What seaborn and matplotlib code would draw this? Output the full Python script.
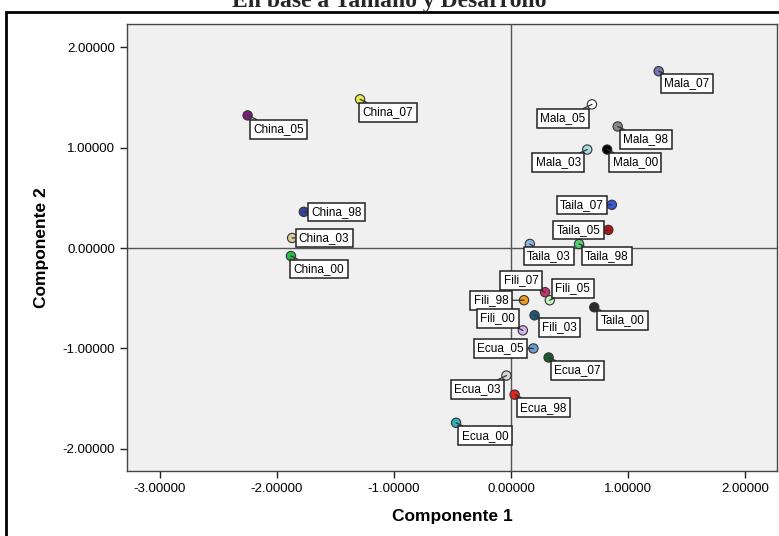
import matplotlib as mpl
mpl.use('Agg')
import matplotlib.pyplot as plt
from matplotlib.patches import Rectangle
import seaborn as sns
import pandas as pd

# puntajes de componentes por pais y año
names = ['China_05', 'China_07', 'China_98', 'China_03', 'China_00',
         'Mala_07', 'Mala_05', 'Mala_98', 'Mala_03', 'Mala_00',
         'Taila_07', 'Taila_05', 'Taila_03', 'Taila_98', 'Taila_00',
         'Fili_07', 'Fili_05', 'Fili_98', 'Fili_03', 'Fili_00',
         'Ecua_05', 'Ecua_07', 'Ecua_03', 'Ecua_98', 'Ecua_00']
comp1 = [-2.25, -1.29, -1.77, -1.87, -1.88,
         1.26, 0.69, 0.91, 0.65, 0.82,
         0.86, 0.83, 0.16, 0.58, 0.71,
         0.29, 0.33, 0.11, 0.20, 0.10,
         0.19, 0.32, -0.04, 0.03, -0.47]
comp2 = [1.32, 1.48, 0.36, 0.10, -0.08,
         1.76, 1.43, 1.21, 0.98, 0.98,
         0.43, 0.18, 0.04, 0.04, -0.59,
         -0.44, -0.52, -0.52, -0.67, -0.82,
         -1.00, -1.09, -1.27, -1.46, -1.74]
x_ticks = [-3, -2, -1, 0, 1, 2]
y_ticks = [-2, -1, 0, 1, 2]

# estilo: colores de los puntos y desplazamiento de etiquetas (pixeles)
colors = ['#7a1e7a', '#ecec50', '#34449a', '#d8d098', '#2db84c',
          '#7676b0', '#ffffff', '#8a8a8a', '#a8dce0', '#000000',
          '#3a58e0', '#b01212', '#90b8e0', '#5ccc74', '#2a2a2a',
          '#c83270', '#c8f0c0', '#f0a020', '#1a5a78', '#d4b4ea',
          '#6c9cd4', '#1a5a2c', '#d4d4d4', '#e82222', '#30b2ba']
offsets = [(31, -14), (28, -13), (33, 0), (32, 0), (28, -13),
           (28, -12), (-29, -14), (28, -13), (-29, -13), (28, -13),
           (-30, 0), (-30, 0), (19, -12), (28, -12), (28, -13),
           (-24, 12), (23, 12), (-33, 0), (25, -12), (-25, 12),
           (-33, 0), (29, -13), (-29, -14), (29, -13), (29, -13)]

df = pd.DataFrame({'Componente 1': comp1, 'Componente 2': comp2, 'nombre': names})

sns.set_style('white')
plt.rcParams['font.family'] = ['Liberation Sans', 'DejaVu Sans']

fig = plt.figure(figsize=(7.79, 5.36), dpi=100)
ax = fig.add_axes([0.163, 0.1213, 0.8344, 0.8339])
ax.set_facecolor('#f0f0f0')

ax.axhline(0, color='#555555', lw=1, zorder=1)
ax.axvline(0, color='#555555', lw=1, zorder=1)

sns.scatterplot(data=df, x='Componente 1', y='Componente 2', hue='nombre',
                palette=dict(zip(names, colors)), s=45, edgecolor='#333333',
                linewidth=0.8, legend=False, ax=ax, zorder=3)

for nm, x, y, off in zip(names, comp1, comp2, offsets):
    ax.annotate(nm, (x, y), xytext=off, textcoords='offset pixels',
                ha='center', va='center', fontsize=8.5, color='black', zorder=4,
                bbox=dict(boxstyle='square,pad=0.28', fc='white', ec='#222222', lw=1.1),
                arrowprops=dict(arrowstyle='-', color='#333333', lw=0.9,
                                shrinkA=0, shrinkB=0))

ax.set_xlim(-3.28, 2.27)
ax.set_ylim(-2.22, 2.23)
ax.set_xticks(x_ticks)
ax.set_yticks(y_ticks)
ax.xaxis.set_major_formatter(mpl.ticker.FormatStrFormatter('%.5f'))
ax.yaxis.set_major_formatter(mpl.ticker.FormatStrFormatter('%.5f'))
ax.tick_params(axis='both', direction='out', length=5, width=1, color='#222222',
               labelsize=9.5, labelcolor='black', bottom=True, left=True)
ax.set_xlabel('Componente 1', fontsize=12.5, fontweight='bold', labelpad=10,
              color='black')
ax.set_ylabel('Componente 2', fontsize=12.5, fontweight='bold', labelpad=10,
              color='black')
for sp in ax.spines.values():
    sp.set_color('#444444')
    sp.set_linewidth(1)

# marco exterior y titulo recortado
fig.patches.append(Rectangle((6 / 779, -0.05), 1.0, 1 - 12 / 536 + 0.05,
                             transform=fig.transFigure, fill=False,
                             ec='black', lw=2))
fig.text(0.5, 1 - 7 / 536, 'En base a Tamaño y Desarrollo', ha='center',
         va='baseline', fontsize=17, fontweight='bold', family='Liberation Serif')

fig.savefig('out.png', dpi=100)
